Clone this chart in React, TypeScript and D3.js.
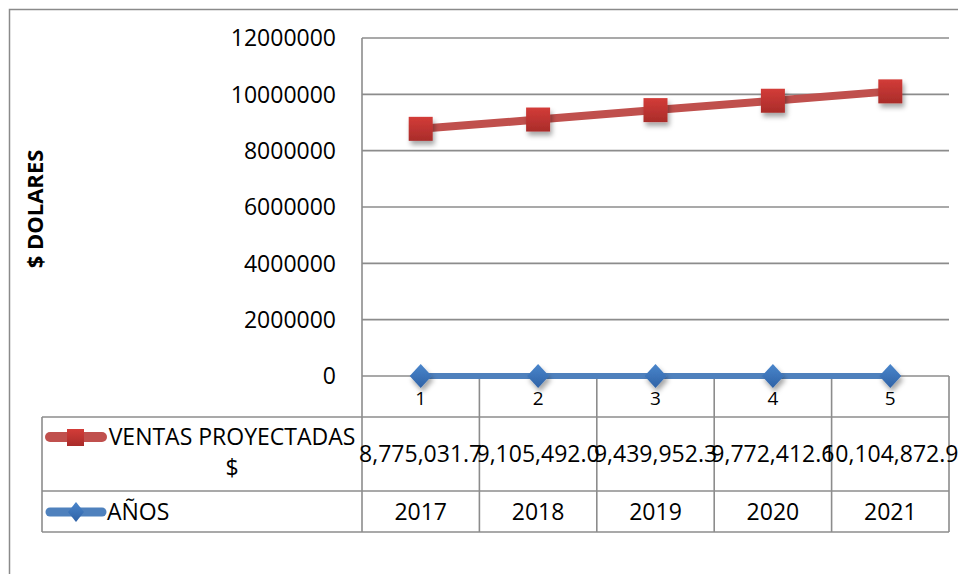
import React, { useEffect, useRef } from 'react';
import * as d3 from 'd3';

// chart data
const categories = ['1', '2', '3', '4', '5'];
const years = ['2017', '2018', '2019', '2020', '2021'];
const ventas = [8775031.7, 9105492.0, 9439952.3, 9772412.6, 10104872.9];
const anos = [2017, 2018, 2019, 2020, 2021];
const yTicks = [0, 2000000, 4000000, 6000000, 8000000, 10000000, 12000000];
const seriesNames = ['VENTAS PROYECTADAS', '$', 'AÑOS'];

const FONT = "'Open Sans', sans-serif";

const App: React.FC = () => {
  const svgRef = useRef<SVGSVGElement>(null);

  useEffect(() => {
    if (!svgRef.current) return;
    const svg = d3.select(svgRef.current);
    svg.selectAll('*').remove();

    const plot = { left: 362, right: 949, top: 38, bottom: 376 };
    const table = { left: 42, row1: 417, row2: 491, bottom: 532 };
    const gridColor = '#8c8c8c';

    // shadow for markers
    const defs = svg.append('defs');
    defs.append('filter')
      .attr('id', 'shadow')
      .attr('x', '-50%').attr('y', '-50%')
      .attr('width', '200%').attr('height', '200%')
      .append('feDropShadow')
      .attr('dx', 2).attr('dy', 4)
      .attr('stdDeviation', 2.5)
      .attr('flood-color', '#000')
      .attr('flood-opacity', 0.35);

    const redGrad = defs.append('linearGradient')
      .attr('id', 'redGrad').attr('x1', 0).attr('y1', 0).attr('x2', 0).attr('y2', 1);
    redGrad.append('stop').attr('offset', '0%').attr('stop-color', '#d33c38');
    redGrad.append('stop').attr('offset', '100%').attr('stop-color', '#a92c2a');

    const blueGrad = defs.append('linearGradient')
      .attr('id', 'blueGrad').attr('x1', 0).attr('y1', 0).attr('x2', 0).attr('y2', 1);
    blueGrad.append('stop').attr('offset', '0%').attr('stop-color', '#4a86cc');
    blueGrad.append('stop').attr('offset', '100%').attr('stop-color', '#2f62a6');

    // outer chart border (extends past the picture)
    svg.append('rect')
      .attr('x', 9.5).attr('y', 9.5)
      .attr('width', 1000).attr('height', 600)
      .attr('fill', 'none')
      .attr('stroke', '#8a8a8a')
      .attr('stroke-width', 1.5);

    const xScale = d3.scaleBand<string>()
      .domain(categories)
      .range([plot.left, plot.right]);

    const yScale = d3.scaleLinear()
      .domain([0, 12000000])
      .range([plot.bottom, plot.top]);

    // gridlines
    svg.append('g')
      .selectAll('line')
      .data(yTicks)
      .enter().append('line')
      .attr('x1', plot.left)
      .attr('x2', plot.right)
      .attr('y1', d => yScale(d))
      .attr('y2', d => yScale(d))
      .attr('stroke', gridColor)
      .attr('stroke-width', 1.6);

    // y tick labels
    svg.append('g')
      .selectAll('text')
      .data(yTicks)
      .enter().append('text')
      .attr('x', 336)
      .attr('y', d => yScale(d) + 8.2)
      .attr('text-anchor', 'end')
      .attr('font-family', FONT)
      .attr('font-size', 23)
      .attr('fill', '#000')
      .text(d => String(d));

    // y axis title
    svg.append('text')
      .attr('transform', 'translate(43,209) rotate(-90)')
      .attr('text-anchor', 'middle')
      .attr('font-family', FONT)
      .attr('font-size', 22)
      .attr('font-weight', 'bold')
      .attr('fill', '#000')
      .text('$ DOLARES');

    // data table lines
    const tbl = svg.append('g')
      .attr('stroke', gridColor)
      .attr('stroke-width', 1.6)
      .attr('fill', 'none');
    tbl.append('line')
      .attr('x1', plot.left).attr('x2', plot.left)
      .attr('y1', plot.top).attr('y2', table.bottom);
    const bounds = categories.map(c => (xScale(c) as number) + xScale.bandwidth());
    tbl.selectAll('line.col')
      .data(bounds)
      .enter().append('line')
      .attr('class', 'col')
      .attr('x1', d => d).attr('x2', d => d)
      .attr('y1', plot.bottom).attr('y2', table.bottom);
    [table.row1, table.row2, table.bottom].forEach(y => {
      tbl.append('line')
        .attr('x1', table.left).attr('x2', plot.right)
        .attr('y1', y).attr('y2', y);
    });
    tbl.append('line')
      .attr('x1', table.left).attr('x2', table.left)
      .attr('y1', table.row1).attr('y2', table.bottom);

    const cx = (c: string) => (xScale(c) as number) + xScale.bandwidth() / 2;

    // category labels
    svg.append('g')
      .selectAll('text')
      .data(categories)
      .enter().append('text')
      .attr('x', d => cx(d))
      .attr('y', 405)
      .attr('text-anchor', 'middle')
      .attr('font-family', FONT)
      .attr('font-size', 19)
      .text(d => d);

    // value row
    const fmt = d3.format(',.1f');
    svg.append('g')
      .selectAll('text')
      .data(ventas)
      .enter().append('text')
      .attr('x', (d, i) => cx(categories[i]))
      .attr('y', 462)
      .attr('text-anchor', 'middle')
      .attr('font-family', FONT)
      .attr('font-size', 23)
      .text(d => fmt(d));

    // years row
    svg.append('g')
      .selectAll('text')
      .data(years)
      .enter().append('text')
      .attr('x', (d, i) => cx(categories[i]))
      .attr('y', 520)
      .attr('text-anchor', 'middle')
      .attr('font-family', FONT)
      .attr('font-size', 23)
      .text(d => d);

    // legend keys in table
    svg.append('line')
      .attr('x1', 50).attr('x2', 102)
      .attr('y1', 437).attr('y2', 437)
      .attr('stroke', '#c0504d').attr('stroke-width', 10)
      .attr('stroke-linecap', 'round');
    svg.append('rect')
      .attr('x', 67).attr('y', 429)
      .attr('width', 17).attr('height', 17)
      .attr('fill', 'url(#redGrad)');
    svg.append('line')
      .attr('x1', 50).attr('x2', 102)
      .attr('y1', 512).attr('y2', 512)
      .attr('stroke', '#4f81bd').attr('stroke-width', 9)
      .attr('stroke-linecap', 'round');
    svg.append('path')
      .attr('d', 'M76,502 L84,512 L76,522 L68,512 Z')
      .attr('fill', 'url(#blueGrad)');

    svg.append('text')
      .attr('x', 232).attr('y', 445)
      .attr('text-anchor', 'middle')
      .attr('font-family', FONT).attr('font-size', 23)
      .text(seriesNames[0]);
    svg.append('text')
      .attr('x', 232).attr('y', 476)
      .attr('text-anchor', 'middle')
      .attr('font-family', FONT).attr('font-size', 23)
      .text(seriesNames[1]);
    svg.append('text')
      .attr('x', 107).attr('y', 520)
      .attr('font-family', FONT).attr('font-size', 23)
      .text(seriesNames[2]);

    // lines
    const line = d3.line<number>()
      .x((d, i) => cx(categories[i]))
      .y(d => yScale(d));

    svg.append('path')
      .datum(anos)
      .attr('fill', 'none')
      .attr('stroke', '#4f81bd')
      .attr('stroke-width', 6)
      .attr('d', line);

    svg.append('path')
      .datum(ventas)
      .attr('fill', 'none')
      .attr('stroke', '#c0504d')
      .attr('stroke-width', 8)
      .attr('d', line);

    // markers
    svg.append('g')
      .selectAll('rect')
      .data(ventas)
      .enter().append('rect')
      .attr('x', (d, i) => cx(categories[i]) - 12)
      .attr('y', d => yScale(d) - 12)
      .attr('width', 24)
      .attr('height', 24)
      .attr('fill', 'url(#redGrad)')
      .attr('filter', 'url(#shadow)');

    svg.append('g')
      .selectAll('path')
      .data(anos)
      .enter().append('path')
      .attr('d', (d, i) => {
        const x = cx(categories[i]);
        const y = yScale(d);
        return `M${x},${y - 12} L${x + 11},${y} L${x},${y + 12} L${x - 11},${y} Z`;
      })
      .attr('fill', 'url(#blueGrad)')
      .attr('filter', 'url(#shadow)');
  }, []);

  return (
    <svg
      ref={svgRef}
      width="958"
      height="574"
      style={{ position: 'absolute', left: 0, top: 0, background: '#fff' }}
    />
  );
};

export default App;
